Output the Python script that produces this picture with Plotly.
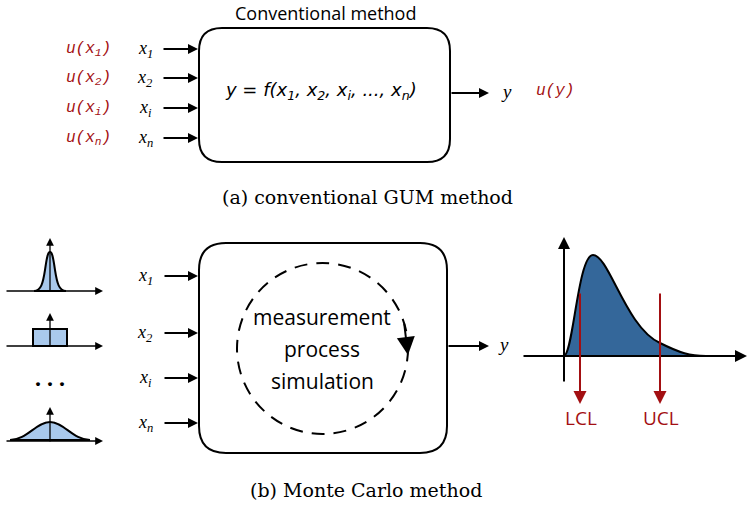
import plotly.graph_objects as go

# ---- diagram content ----
input_subscripts = ["1", "2", "i", "n"]
formula_subscripts = ["1", "2", "i", "n"]
title_a = "Conventional method"
caption_a = "(a) conventional GUM method"
caption_b = "(b) Monte Carlo method"
process_lines = ["measurement", "process", "simulation"]
limit_labels = ["LCL", "UCL"]

# ---- layout constants (canvas pixels, y pointing down) ----
W, H = 748, 505
RED = "#a30f12"
DARK_FILL = "#34679a"
LIGHT_FILL = "#a9c9ec"
SANS = "Open Sans"
SERIF = "DejaVu Serif"
MONO = "Liberation Mono"

rows_a = [49, 78, 108, 138]
rows_b = [276, 333, 378, 423]
limit_x = [580, 660]

shapes = []
annotations = []


def rounded_rect(x0, y0, x1, y1, r, width=2):
    path = (f"M {x0+r},{y0} H {x1-r} Q {x1},{y0} {x1},{y0+r} V {y1-r} "
            f"Q {x1},{y1} {x1-r},{y1} H {x0+r} Q {x0},{y1} {x0},{y1-r} "
            f"V {y0+r} Q {x0},{y0} {x0+r},{y0} Z")
    shapes.append(dict(type="path", path=path, xref="x", yref="y",
                       line=dict(color="black", width=width)))


def arrow(x0, y0, x1, y1, color="black", width=2, size=1.0, head=2):
    annotations.append(dict(x=x1, y=y1, ax=x0, ay=y0, xref="x", yref="y",
                            axref="x", ayref="y", showarrow=True, text="",
                            arrowhead=head, arrowsize=size, arrowwidth=width,
                            arrowcolor=color, standoff=0, startstandoff=0))


def text(x, y, s, size=15, family=SANS, color="black", italic=False, xanchor="center"):
    annotations.append(dict(x=x, y=y, xref="x", yref="y", text=s, showarrow=False,
                            xanchor=xanchor, yanchor="middle",
                            font=dict(family=family, size=size, color=color,
                                      style="italic" if italic else "normal")))


def xlabel(sub):
    return f"<i>x<sub>{sub}</sub></i>"


# ================= (a) conventional method =================
text(325, 13, title_a, size=18)
rounded_rect(199, 28, 450, 162, 23)
for sub, y in zip(input_subscripts, rows_a):
    text(88, y, f"<i>u(x<sub>{sub}</sub>)</i>", size=16, family=MONO, color=RED)
    text(145, y, xlabel(sub), size=18, family="Liberation Serif")
    arrow(162, y, 198, y)

formula = "y = f(" + ", ".join(
    [f"x<sub>{s}</sub>" for s in formula_subscripts[:3]] + ["...", f"x<sub>{formula_subscripts[3]}</sub>"]) + ")"
text(321, 91, formula, size=18, family="DejaVu Sans", italic=True)
arrow(450, 93, 489, 93)
text(506, 91, "<i>y</i>", size=19, family="Liberation Serif")
text(555, 91, "<i>u(y)</i>", size=16, family=MONO, color=RED)
text(367, 197, caption_a, size=19, family=SERIF)

# ================= (b) Monte Carlo method =================
# small input distributions
# narrow normal
shapes.append(dict(type="path", xref="x", yref="y",
                   path="M 34,291 C 41,291 43,283 45,270 C 47,256 48,252 50,252 "
                        "C 52,252 53,256 55,270 C 57,283 59,291 66,291 Z",
                   fillcolor=LIGHT_FILL, line=dict(color="black", width=2)))
# uniform
shapes.append(dict(type="rect", xref="x", yref="y", x0=33, x1=67, y0=329, y1=346,
                   fillcolor=LIGHT_FILL, line=dict(color="black", width=2)))
# wide normal
shapes.append(dict(type="path", xref="x", yref="y",
                   path="M 10,440 C 27,440 36,422 50,422 C 64,422 73,440 90,440 Z",
                   fillcolor=LIGHT_FILL, line=dict(color="black", width=2)))
for base, top in [(291, 238), (346, 313), (441, 407)]:
    arrow(5, base, 103, base, width=1.3, size=1.2)
    arrow(50, base + 2, 50, top, width=1.3, size=1.2)
text(50, 378, "<b>. . .</b>", size=24, family="Liberation Serif")

rounded_rect(199, 243, 447, 453, 27)
for sub, y in zip(input_subscripts, rows_b):
    text(145, y, xlabel(sub), size=18, family="Liberation Serif")
    arrow(163, y, 198, y)

shapes.append(dict(type="circle", xref="x", yref="y", x0=237, x1=408, y0=263, y1=434,
                   line=dict(color="black", width=2, dash="13px,9px")))
arrow(404, 322, 408, 355, size=1.8)
for line, y in zip(process_lines, [317, 349, 381]):
    text(322, y, line, size=21)

arrow(447, 346, 489, 346)
text(503, 344, "<i>y</i>", size=19, family="Liberation Serif")

# output distribution
shapes.append(dict(type="path", xref="x", yref="y",
                   path="M 564,356 C 573,355 578,255 593,255 C 609,255 626,328 660,343 "
                        "C 680,353 690,356 706,356 Z",
                   fillcolor=DARK_FILL, line=dict(color="black", width=2)))
arrow(522, 356, 747, 356, width=2, size=1.2)
arrow(564, 383, 564, 237, width=2, size=1.2)
for lab, x in zip(limit_labels, limit_x):
    arrow(x, 292, x, 404, color=RED, width=2, size=1.3)
    text(x + 1, 418, lab, size=19, color=RED)

text(366, 490, caption_b, size=19, family=SERIF)

fig = go.Figure()
fig.update_layout(
    width=W, height=H, margin=dict(l=0, r=0, t=0, b=0),
    paper_bgcolor="white", plot_bgcolor="white",
    xaxis=dict(range=[0, W], visible=False, fixedrange=True),
    yaxis=dict(range=[H, 0], visible=False, fixedrange=True),
    shapes=shapes, annotations=annotations, showlegend=False,
)
fig.write_html("out.html")
